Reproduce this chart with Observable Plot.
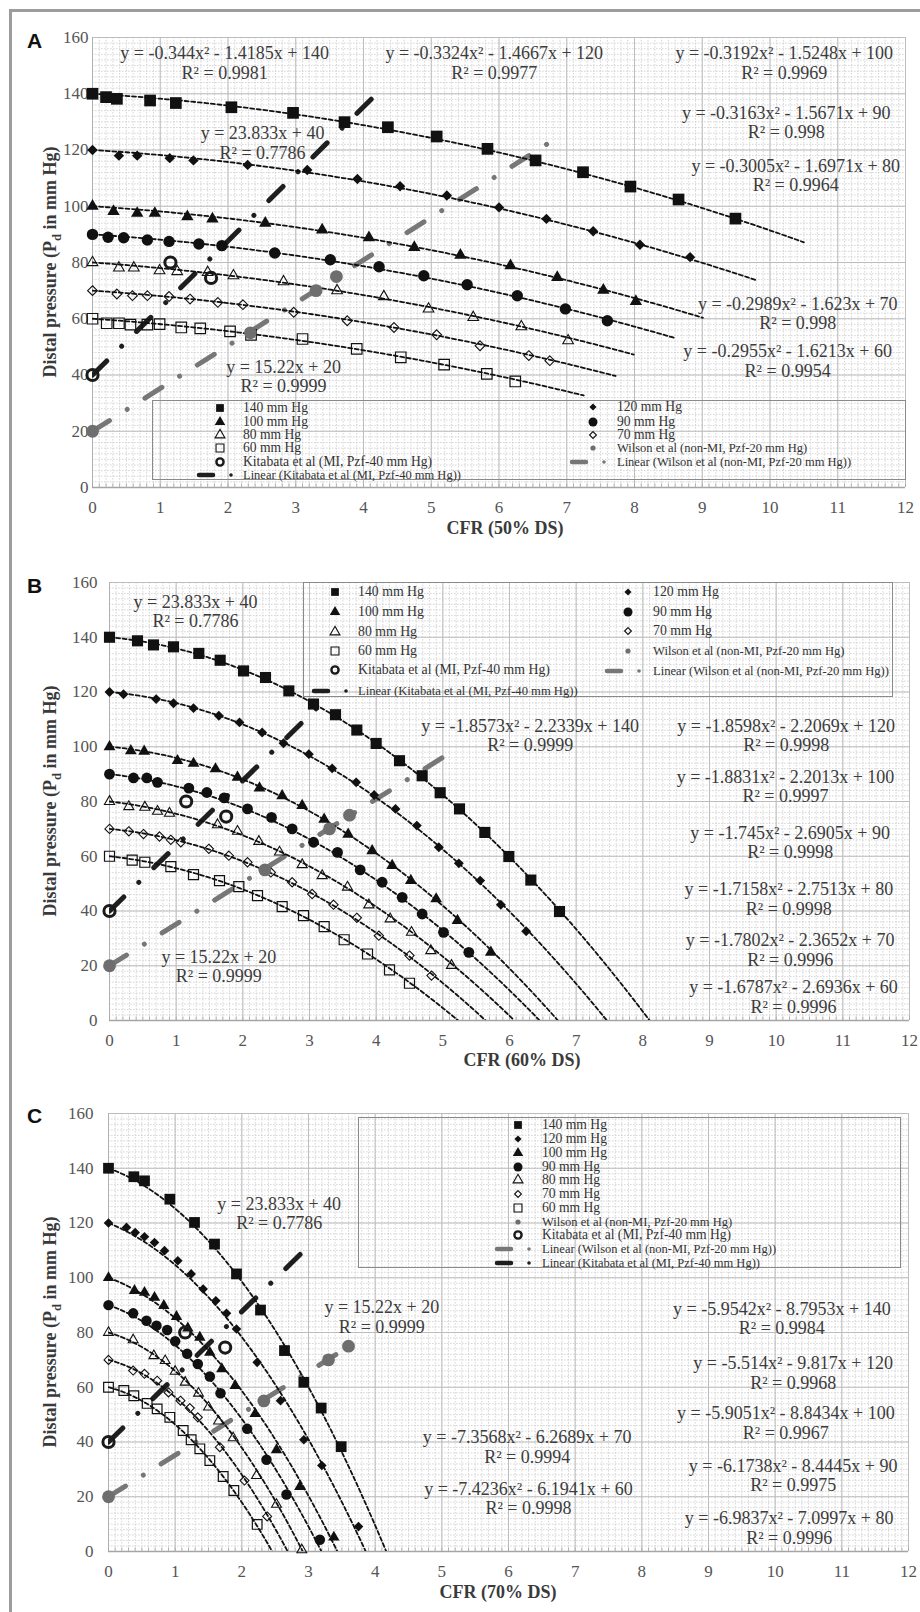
<!DOCTYPE html>
<html><head><meta charset="utf-8">
<script src="https://cdn.jsdelivr.net/npm/d3@7"></script>
<script src="https://cdn.jsdelivr.net/npm/@observablehq/plot@0.6"></script>
<style>
body{margin:0;background:#fff;}
#page{position:relative;width:920px;height:1612px;overflow:hidden;font-family:"Liberation Serif","Times New Roman",serif;background:#fff;}
#page svg text, #page svg tspan{font-family:"Liberation Serif","Times New Roman",serif;}
.frame-top{position:absolute;left:9px;top:9px;right:0;height:3px;background:#9c9c9c;}
.frame-left{position:absolute;left:9px;top:9px;width:3px;bottom:0;background:#9c9c9c;}
.panel{position:absolute;left:0;}
.panel svg{display:block;}
.letter{position:absolute;font-family:"Liberation Sans",Arial,sans-serif;font-weight:bold;font-size:21px;color:#111;transform:translateY(-50%);line-height:1;}
.xtitle{position:absolute;font-weight:bold;font-size:18px;color:#3a3a3a;transform:translate(-50%,-50%);white-space:nowrap;line-height:1;}
.ytitle{position:absolute;font-weight:bold;font-size:18px;color:#3a3a3a;transform:translate(-50%,-50%) rotate(-90deg);white-space:nowrap;line-height:1;}
.ytitle sub{font-size:0.7em;}
.legend{position:absolute;border:1.5px solid #8a8a8a;box-sizing:border-box;}
.lgt{position:absolute;white-space:nowrap;color:#333;transform:translateY(-50%);line-height:1;}
.lgs{position:absolute;overflow:visible;}
</style>
</head><body>
<div id="page">
  <div class="frame-top"></div><div class="frame-left"></div>
</div>
<script>
// ---------------- DATA ----------------
const seriesNames = ["140 mm Hg","120 mm Hg","100 mm Hg","90 mm Hg","80 mm Hg","70 mm Hg","60 mm Hg"];
const xTickValues = [0,1,2,3,4,5,6,7,8,9,10,11,12];
const yTickValues = [0,20,40,60,80,100,120,140,160];

// Panel A : CFR (50% DS)
const A_140 = [[0,140],[0.2,138.8],[0.36,138.2],[0.85,137.6],[1.23,136.7],[2.05,135.2],[2.96,133.2],[3.72,129.9],[4.36,128.1],[5.08,124.8],[5.83,120.4],[6.54,116.3],[7.24,112.1],[7.94,107],[8.65,102.4],[9.49,95.6]];
const A_120 = [[0,120],[0.39,118],[0.66,118],[1.14,117.1],[1.49,116.3],[2.29,114.7],[3.17,112.9],[3.91,109.7],[4.54,107.1],[5.23,103.8],[6.0,99.6],[6.7,95.5],[7.39,91.1],[8.08,86.3],[8.82,81.9]];
const A_100 = [[0,100],[0.31,98.2],[0.66,97.5],[0.92,97.5],[1.4,96.3],[1.77,95.5],[2.55,94],[3.39,91.6],[4.08,88.8],[4.75,85.4],[5.43,82.6],[6.17,78.9],[6.86,74.7],[7.54,70.2],[8.02,66.2]];
const A_90 = [[0,90],[0.23,89],[0.46,88.8],[0.81,88],[1.13,87.5],[1.57,86.6],[1.91,86],[2.69,83.4],[3.51,81],[4.23,78.5],[4.89,75.3],[5.53,72.1],[6.27,68.2],[6.98,63.5],[7.6,59.3]];
const A_80 = [[0,80],[0.39,78.1],[0.61,78.1],[0.99,77.1],[1.25,76.8],[1.7,76.5],[2.08,75.3],[2.82,73.2],[3.61,70],[4.3,67.9],[4.96,63.5],[5.62,60.5],[6.33,57.2],[7.02,52.2]];
const A_70 = [[0,70],[0.36,68.8],[0.59,68.2],[0.81,68.2],[1.13,67.9],[1.44,67],[1.85,65.8],[2.22,65],[2.97,62.3],[3.76,59.3],[4.45,56.9],[5.08,54.3],[5.72,50.4],[6.44,46.9],[6.75,45.1]];
const A_60 = [[0,60],[0.21,58.4],[0.39,58.4],[0.56,57.9],[0.81,57.9],[0.99,58.1],[1.31,56.9],[1.59,56.6],[2.03,55.5],[2.34,54.3],[3.1,52.8],[3.9,49.3],[4.55,46.3],[5.19,43.7],[5.82,40.4],[6.24,37.7]];
const A_fits = [[-0.344,-1.4185,140],[-0.3324,-1.4667,120],[-0.3192,-1.5248,100],[-0.3163,-1.5671,90],[-0.3005,-1.6971,80],[-0.2989,-1.623,70],[-0.2955,-1.6213,60]];
const A_fitEnds = [10.5,9.81,9.01,8.6,7.99,7.72,7.25];
const A_notes = ["y = -0.344x² - 1.4185x + 140\nR² = 0.9981","y = -0.3324x² - 1.4667x + 120\nR² = 0.9977","y = -0.3192x² - 1.5248x + 100\nR² = 0.9969","y = -0.3163x² - 1.5671x + 90\nR² = 0.998","y = -0.3005x² - 1.6971x + 80\nR² = 0.9964","y = -0.2989x² - 1.623x + 70\nR² = 0.998","y = -0.2955x² - 1.6213x + 60\nR² = 0.9954","y = 23.833x + 40\nR² = 0.7786","y = 15.22x + 20\nR² = 0.9999"];
const A_noteAt = [[1.95,151],[5.93,151],[10.21,151],[10.24,129.8],[10.38,111.1],[10.41,62],[10.26,45.1],[2.51,122.5],[2.82,39.6]];

// Panel B : CFR (60% DS)
const B_140 = [[0,140],[0.42,138.7],[0.66,137.2],[0.96,136.5],[1.34,134.1],[1.66,131.6],[2.01,127.7],[2.34,125.3],[2.69,120.4],[3.06,115.6],[3.39,111.7],[3.71,106.1],[4.0,101.2],[4.35,94.9],[4.69,89.4],[4.96,83.2],[5.25,77.3],[5.63,68.7],[5.99,59.9],[6.32,51.3],[6.75,39.8]];
const B_120 = [[0,120],[0.21,119.2],[0.7,117.4],[0.96,115.9],[1.26,114.1],[1.64,111.3],[1.95,108.9],[2.29,105.2],[2.61,101.3],[2.99,97.3],[3.34,92.1],[3.7,87],[3.97,82.4],[4.29,77.3],[4.61,71.2],[4.94,63.3],[5.24,57.4],[5.56,51.1],[5.87,42.3],[6.25,32.6]];
const B_100 = [[0,100],[0.32,98.5],[0.52,98.3],[1.02,94.9],[1.26,93.9],[1.59,91.9],[1.92,88.8],[2.25,84.9],[2.59,82.1],[2.89,78.5],[3.22,73.5],[3.58,68],[3.94,62],[4.24,56.6],[4.52,51.1],[4.9,44.4],[5.22,36.5],[5.72,24.9]];
const B_90 = [[0,90],[0.36,88.6],[0.56,88.6],[0.72,87],[1.19,84.9],[1.46,83.3],[1.72,81.3],[2.07,77.3],[2.43,74.2],[2.74,70],[3.06,65.1],[3.42,61.4],[3.76,55],[4.09,50.5],[4.39,45],[4.69,38.9],[5.01,32.2],[5.39,24.9]];
const B_80 = [[0,80],[0.29,78.1],[0.53,77.9],[0.72,76.4],[0.9,75.7],[1.62,71.5],[1.92,69.1],[2.24,65.4],[2.55,61.5],[2.89,56.9],[3.19,52.9],[3.57,48.7],[3.89,42.2],[4.21,37.1],[4.53,32.2],[4.82,25.5],[5.13,20.1]];
const B_70 = [[0,70],[0.29,69.1],[0.51,68.1],[0.75,67.2],[0.92,66],[1.07,65.1],[1.49,62.7],[1.79,60.2],[2.07,57.8],[2.42,54.1],[2.74,50.5],[3.04,46.2],[3.36,42.3],[3.71,37.5],[4.04,31],[4.5,23.7],[4.83,16.4]];
const B_60 = [[0,60],[0.34,58.6],[0.53,57.8],[0.92,56.2],[1.26,53.3],[1.65,51.1],[1.94,48.9],[2.22,45.6],[2.59,41.6],[2.91,38.3],[3.22,34.3],[3.52,29.5],[3.87,24.3],[4.2,18.5],[4.5,13.6]];
const B_fits = [[-1.8573,-2.2339,140],[-1.8598,-2.2069,120],[-1.8831,-2.2013,100],[-1.745,-2.6905,90],[-1.7158,-2.7513,80],[-1.7802,-2.3652,70],[-1.6787,-2.6936,60]];
const B_fitEnds = [8.1,7.46,6.73,6.45,6.07,5.64,5.23];
const B_notes = ["y = 23.833x + 40\nR² = 0.7786","y = -1.8573x² - 2.2339x + 140\nR² = 0.9999","y = -1.8598x² - 2.2069x + 120\nR² = 0.9998","y = -1.8831x² - 2.2013x + 100\nR² = 0.9997","y = -1.745x² - 2.6905x + 90\nR² = 0.9998","y = -1.7158x² - 2.7513x + 80\nR² = 0.9998","y = -1.7802x² - 2.3652x + 70\nR² = 0.9996","y = -1.6787x² - 2.6936x + 60\nR² = 0.9996","y = 15.22x + 20\nR² = 0.9999"];
const B_noteAt = [[1.29,149.5],[6.31,104.2],[10.15,104.2],[10.14,85.6],[10.21,65.1],[10.19,44.5],[10.21,25.9],[10.26,8.6],[1.64,19.8]];

// Panel C : CFR (70% DS)
const C_140 = [[0,140],[0.38,136.9],[0.54,135.4],[0.92,128.7],[1.29,120.2],[1.59,112.3],[1.92,101.4],[2.28,88.2],[2.64,73.4],[2.93,61.8],[3.19,52.4],[3.49,38.3]];
const C_120 = [[0,120],[0.27,118.4],[0.4,116.5],[0.54,115],[0.69,112.9],[0.84,109.9],[1.04,106.2],[1.24,101.4],[1.42,95.9],[1.61,91.6],[1.77,87],[1.92,81.3],[2.23,69.1],[2.58,55.1],[2.93,40.8],[3.2,31.4],[3.75,9.1]];
const C_100 = [[0,100],[0.39,95.3],[0.54,94.6],[0.69,92.8],[0.83,89.8],[1.02,85.8],[1.19,81.6],[1.37,78.2],[1.52,72.7],[1.7,66.7],[1.9,60.6],[2.2,50.3],[2.52,37.1],[2.87,23.7],[3.38,5.2]];
const C_90 = [[0,90],[0.37,87],[0.57,84.3],[0.72,82.5],[0.88,80.9],[1,76.8],[1.18,72.2],[1.34,68.5],[1.52,63.9],[1.68,57.8],[2.08,44.8],[2.37,33.5],[2.67,20.8],[3.17,4.3]];
const C_80 = [[0,80],[0.37,77.3],[0.68,71.5],[0.85,69.7],[1,65.8],[1.15,61.8],[1.35,57.8],[1.5,52.7],[1.65,47.6],[1.87,41.5],[2.22,27.7],[2.52,17.2],[2.9,0.6]];
const C_70 = [[0,70],[0.37,66.1],[0.54,64.9],[0.73,62.4],[0.9,58.1],[1.08,55.1],[1.22,52.4],[1.34,49],[1.67,38.1],[2.04,25.9],[2.38,12.8]];
const C_60 = [[0,60],[0.23,58.8],[0.38,56.9],[0.58,54.1],[0.73,52.1],[0.92,49],[1.12,44.2],[1.24,40.8],[1.37,37.5],[1.52,33.2],[1.72,27.4],[1.88,22.3],[2.23,9.9]];
const C_fits = [[-5.9542,-8.7953,140],[-5.514,-9.817,120],[-5.9051,-8.8434,100],[-6.1738,-8.4445,90],[-6.9837,-7.0997,80],[-7.3568,-6.2689,70],[-7.4236,-6.1941,60]];
const C_fitEnds = [4.17,3.86,3.43,3.19,2.91,2.69,2.46];
const C_notes = ["y = 23.833x + 40\nR² = 0.7786","y = 15.22x + 20\nR² = 0.9999","y = -5.9542x² - 8.7953x + 140\nR² = 0.9984","y = -5.514x² - 9.817x + 120\nR² = 0.9968","y = -5.9051x² - 8.8434x + 100\nR² = 0.9967","y = -6.1738x² - 8.4445x + 90\nR² = 0.9975","y = -6.9837x² - 7.0997x + 80\nR² = 0.9996","y = -7.3568x² - 6.2689x + 70\nR² = 0.9994","y = -7.4236x² - 6.1941x + 60\nR² = 0.9998"];
const C_noteAt = [[2.56,123.6],[4.1,85.8],[10.1,85.2],[10.27,65.3],[10.16,47],[10.27,27.9],[10.21,8.7],[6.28,38.2],[6.3,19.4]];

// Literature data (same in all panels)
const kitabata = [[0,40],[1.15,80],[1.75,74.5]];
const wilson = [[0,20],[2.33,55],[3.3,70],[3.6,75]];
const kitabataFit = [23.833, 40];
const wilsonFit = [15.22, 20];
const kitabataFitEnd = {A:4.15, B:3.1, C:3.05};
const wilsonFitEnd = {A:6.95, B:5.0, C:3.65};

const legendLabels = {
  kit: "Kitabata et al (MI, Pzf-40 mm Hg)",
  wil: "Wilson et al (non-MI, Pzf-20 mm Hg)",
  linKit: "Linear (Kitabata et al (MI, Pzf-40 mm Hg))",
  linWil: "Linear (Wilson et al (non-MI, Pzf-20 mm Hg))"
};

// ---------------- STYLE ----------------
const page = document.getElementById("page");
const ink = "#111";
const serif = "'Liberation Serif','Times New Roman',serif";
const markerStyle = [
  {symbol:"square", fill:ink, stroke:"none", r:6.6, rs:0},
  {symbol:"diamond2", fill:ink, stroke:"none", r:4.7, rs:0},
  {symbol:"triangle", fill:ink, stroke:"none", r:4.6, rs:0},
  {symbol:"circle", fill:ink, stroke:"none", r:5.7, rs:0},
  {symbol:"triangle2", fill:"none", stroke:ink, r:5.1, rs:1.1},
  {symbol:"diamond2", fill:"none", stroke:ink, r:4.4, rs:1.1},
  {symbol:"square2", fill:"none", stroke:ink, r:6.7, rs:1.2}
];
const xMinor = d3.range(0, 121).map(i => i / 10);
const yMinor = d3.range(0, 81).map(i => i * 2);

function curve(coef, end) {
  const n = 200, pts = [];
  for (let i = 0; i <= n; i++) { const x = end * i / n; pts.push({x, y: coef[0]*x*x + coef[1]*x + coef[2]}); }
  return pts;
}
function line(coef, end) {
  return [{x:0, y:coef[1]}, {x:end, y:coef[0]*end + coef[1]}];
}

function makePanel(cfg) {
  const marks = [
    Plot.gridX(xMinor, {stroke:"#cdcdcd", strokeOpacity:1, strokeWidth:0.8, strokeDasharray:"1.6,1.4"}),
    Plot.gridY(yMinor, {stroke:"#cdcdcd", strokeOpacity:1, strokeWidth:0.8, strokeDasharray:"1.6,1.4"}),
    Plot.gridX(xTickValues, {stroke:"#bdbdbd", strokeOpacity:1, strokeWidth:1}),
    Plot.gridY(yTickValues, {stroke:"#bdbdbd", strokeOpacity:1, strokeWidth:1}),
    Plot.ruleY([0], {stroke:"#a5a5a5", strokeWidth:1.5}),
    Plot.ruleX([0], {stroke:"#b0b0b0", strokeWidth:1}),
    Plot.ruleX(xMinor, {y1:0, y2:1.3, stroke:"#a5a5a5", strokeWidth:0.8}),
    Plot.axisX(xTickValues, {tickSize:0, tickPadding:13, label:null, fontSize:17, fontFamily:serif}),
    Plot.axisY(yTickValues, {tickSize:0, tickPadding:cfg.yPad, label:null, fontSize:17, fontFamily:serif})
  ];
  // linear trend lines (literature)
  marks.push(Plot.line(line(wilsonFit, wilsonFitEnd[cfg.id]), {x:"x", y:"y", stroke:"#777", strokeWidth:5, strokeLinecap:"round", strokeDasharray:"20,21,0.01,21", clip:true}));
  marks.push(Plot.line(line(kitabataFit, kitabataFitEnd[cfg.id]), {x:"x", y:"y", stroke:"#1e1e1e", strokeWidth:5, strokeLinecap:"round", strokeDasharray:"20,21,0.01,21", clip:true}));
  // polynomial trend lines
  cfg.fits.forEach((c, i) => {
    marks.push(Plot.line(curve(c, cfg.ends[i]), {x:"x", y:"y", stroke:ink, strokeWidth:1.8, strokeDasharray:"4,2.6", clip:true}));
  });
  // series markers
  cfg.series.forEach((s, i) => {
    const st = markerStyle[i];
    marks.push(Plot.dot(s, {x:d=>d[0], y:d=>d[1], symbol:st.symbol, fill:st.fill, stroke:st.stroke, strokeWidth:st.rs, r:st.r*cfg.scale}));
  });
  marks.push(Plot.dot(wilson, {x:d=>d[0], y:d=>d[1], r:6.4, fill:"#6e6e6e"}));
  marks.push(Plot.dot(kitabata, {x:d=>d[0], y:d=>d[1], r:5.6, fill:"none", stroke:"#1a1a1a", strokeWidth:3}));
  // equations
  marks.push(Plot.text(cfg.notes, {x:(d,i)=>cfg.noteAt[i][0], y:(d,i)=>cfg.noteAt[i][1], text:d=>d, fontSize:18, fontFamily:serif, fill:"#3c3c3c", lineHeight:1.08}));

  const svg = Plot.plot({
    width: 920, height: cfg.height,
    marginLeft: cfg.ml, marginRight: 920 - cfg.mr, marginTop: cfg.mt, marginBottom: cfg.height - cfg.mb,
    x: {domain:[0,12]}, y: {domain:[0,160]},
    style: {fontFamily:serif, fontSize:"17px", color:"#555", background:"transparent", overflow:"visible"},
    marks
  });
  const div = document.createElement("div");
  div.className = "panel";
  div.style.top = cfg.top + "px";
  div.appendChild(svg);
  page.appendChild(div);
}

function addText(cls, html, x, y) {
  const d = document.createElement("div");
  d.className = cls; d.innerHTML = html;
  d.style.left = x + "px"; d.style.top = y + "px";
  page.appendChild(d);
  return d;
}

function legendSymbol(kind, cx, cy) {
  const w = 40, h = 16;
  const svg = d3.create("svg").attr("class","lgs").attr("width", w).attr("height", h)
    .style("left", (cx - 30) + "px").style("top", (cy - 8) + "px");
  const g = svg.append("g").attr("transform", `translate(30,8)`);
  const sym = (type, size) => d3.symbol(type, size)();
  if (kind === 0) g.append("path").attr("d", sym(d3.symbolSquare, 60)).attr("fill", ink);
  if (kind === 1) g.append("path").attr("d", sym(d3.symbolDiamond2, 32)).attr("fill", ink);
  if (kind === 2) g.append("path").attr("d", sym(d3.symbolTriangle, 48)).attr("fill", ink);
  if (kind === 3) g.append("circle").attr("r", 4.5).attr("fill", ink);
  if (kind === 4) g.append("path").attr("d", sym(d3.symbolTriangle2, 70)).attr("fill", "none").attr("stroke", ink).attr("stroke-width", 1.1);
  if (kind === 5) g.append("path").attr("d", sym(d3.symbolDiamond2, 30)).attr("fill", "none").attr("stroke", ink).attr("stroke-width", 1.1);
  if (kind === 6) g.append("path").attr("d", sym(d3.symbolSquare2, 80)).attr("fill", "none").attr("stroke", ink).attr("stroke-width", 1.1);
  if (kind === "kit") g.append("circle").attr("r", 3.6).attr("fill", "none").attr("stroke", "#1a1a1a").attr("stroke-width", 2.4);
  if (kind === "wil") g.append("circle").attr("r", 2.6).attr("fill", "#6e6e6e");
  if (kind === "linKit" || kind === "linWil") {
    const c = kind === "linKit" ? "#1e1e1e" : "#777";
    g.append("line").attr("x1", -21).attr("x2", -7).attr("y1", 0).attr("y2", 0).attr("stroke", c).attr("stroke-width", 4.5).attr("stroke-linecap", "round");
    g.append("circle").attr("cx", 11).attr("r", 1.8).attr("fill", c);
  }
  page.appendChild(svg.node());
}

function legend(box, cols) {
  const d = document.createElement("div");
  d.className = "legend";
  Object.assign(d.style, {left: box[0]+"px", top: box[1]+"px", width: (box[2]-box[0])+"px", height: (box[3]-box[1])+"px"});
  page.appendChild(d);
  for (const col of cols) {
    col.items.forEach((it, j) => {
      const y = col.rows[j];
      legendSymbol(it, col.sx, y);
      const label = typeof it === "number" ? seriesNames[it] : legendLabels[it];
      const small = typeof it !== "number" && it !== "kit";
      const t = addText("lgt", label, col.tx, y);
      t.style.fontSize = (small ? col.fsSmall : col.fs) + "px";
    });
  }
}

// ---------------- PANELS ----------------
makePanel({id:"A", top:0, height:545, ml:92, mr:905, mt:37, mb:487, yPad:4, scale:1,
  series:[A_140,A_120,A_100,A_90,A_80,A_70,A_60], fits:A_fits, ends:A_fitEnds, notes:A_notes, noteAt:A_noteAt});
makePanel({id:"B", top:550, height:530, ml:109, mr:909, mt:32, mb:470, yPad:12, scale:0.95,
  series:[B_140,B_120,B_100,B_90,B_80,B_70,B_60], fits:B_fits, ends:B_fitEnds, notes:B_notes, noteAt:B_noteAt});
makePanel({id:"C", top:1085, height:527, ml:108, mr:908, mt:28, mb:466, yPad:15, scale:0.92,
  series:[C_140,C_120,C_100,C_90,C_80,C_70,C_60], fits:C_fits, ends:C_fitEnds, notes:C_notes, noteAt:C_noteAt});

// panel letters & axis titles
addText("letter", "A", 27, 40);
addText("letter", "B", 27, 585);
addText("letter", "C", 27, 1115);
addText("xtitle", "CFR (50% DS)", 505, 528);
addText("xtitle", "CFR (60% DS)", 522, 1060);
addText("xtitle", "CFR (70% DS)", 498, 1592);
const yTitle = "Distal pressure (P<sub>d</sub> in mm Hg)";
addText("ytitle", yTitle, 52, 262);
addText("ytitle", yTitle, 52, 801);
addText("ytitle", yTitle, 52, 1332);

// legends
legend([152,400,906,480], [
  {sx:220, tx:243, fs:13.6, fsSmall:12.5, rows:[407.5,421.5,435,448.3,461.7,474.5], items:[0,2,4,6,"kit","linKit"]},
  {sx:593, tx:617, fs:13.6, fsSmall:12.5, rows:[407,421.5,434.5,448,462], items:[1,3,5,"wil","linWil"]}
]);
legend([303,582,893,697], [
  {sx:335, tx:358, fs:13.8, fsSmall:12.6, rows:[592,612,631.5,650.5,670,690.5], items:[0,2,4,6,"kit","linKit"]},
  {sx:628, tx:653, fs:13.8, fsSmall:12.6, rows:[592,612,631,651,670.5], items:[1,3,5,"wil","linWil"]}
]);
legend([358,1117,901,1268], [
  {sx:518, tx:542, fs:13.6, fsSmall:12.5, rows:[1125,1139,1153,1166.5,1180,1194,1207.5,1221.5,1235,1249,1262.5], items:[0,1,2,3,4,5,6,"wil","kit","linWil","linKit"]}
]);
</script>
</body></html>
